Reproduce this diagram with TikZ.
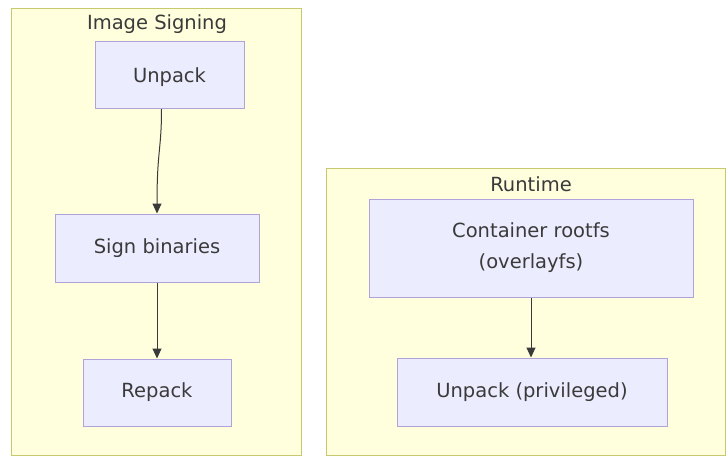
\documentclass[tikz,border=0pt]{standalone}
\usepackage{fontspec}
\setmainfont{DejaVu Sans}
\usetikzlibrary{arrows.meta}
\definecolor{clfill}{HTML}{FFFFDE}
\definecolor{clstroke}{HTML}{C8C870}
\definecolor{ndfill}{HTML}{ECECFF}
\definecolor{ndstroke}{HTML}{B0A3DA}
\definecolor{txt}{HTML}{3A3A3A}
\tikzset{
  cluster/.style={draw=clstroke, fill=clfill, line width=1pt},
  box/.style={draw=ndstroke, fill=ndfill, line width=1pt, text=txt, align=center,
    font=\fontsize{19.5}{31}\selectfont, inner sep=0pt},
  ttl/.style={text=txt, font=\fontsize{19.5}{23}\selectfont, inner sep=0pt},
  conn/.style={draw=txt, line width=1pt, -{Triangle[length=10pt,width=9pt]}},
}
\begin{document}
\begin{tikzpicture}[x=1pt,y=-1pt]
\useasboundingbox (0,0) rectangle (726,456);
\fill[white] (0,0) rectangle (726,456);
% clusters
\path[cluster] (11.5,8.5) rectangle (301.5,455.5);
\node[ttl] (t1) at (157,24) {Image Signing};
\path[cluster] (326.5,168.5) rectangle (725.5,455.5);
\node[ttl] (t2) at (531,184) {Runtime};
% nodes
\node[box, minimum width=149pt, minimum height=67pt, text depth=0pt, yshift=-1.5pt] (unpack) at (169.5,73.5) {Unpack};
\node[box, minimum width=204pt, minimum height=68pt] (sign) at (157,248) {Sign binaries};
\node[box, minimum width=148pt, minimum height=67pt] (repack) at (157,392.5) {Repack};
\node[box, minimum width=324pt, minimum height=98pt] (rootfs) at (531,248) {Container rootfs\\(overlayfs)};
\node[box, minimum width=270pt, minimum height=68pt] (upriv) at (532,392) {Unpack (privileged)};
% connectors
\draw[conn] ([xshift=-8pt]unpack.south) .. controls ([xshift=-8pt]unpack.south |- 0,150) and (157,150) .. (sign.north);
\draw[conn] (sign.south) -- (repack.north);
\draw[conn] (rootfs.south) -- (upriv.north -| rootfs.south);
\end{tikzpicture}
\end{document}
